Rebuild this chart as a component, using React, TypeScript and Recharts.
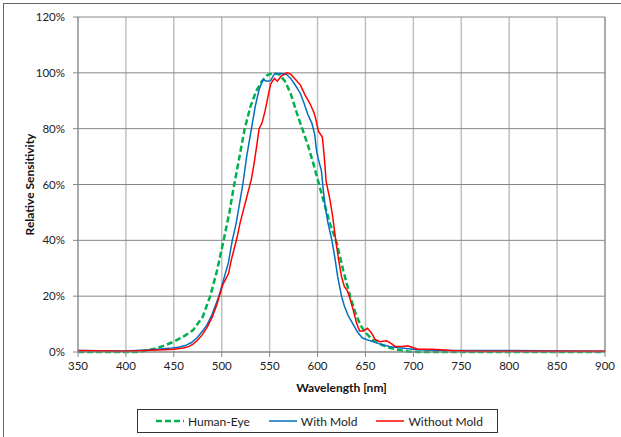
import { LineChart, Line, XAxis, YAxis, CartesianGrid, Legend, ReferenceLine } from 'recharts';

const X_TICKS = [350, 400, 450, 500, 550, 600, 650, 700, 750, 800, 850, 900];
const Y_TICKS = [0, 20, 40, 60, 80, 100, 120];

const eyeNm = [350, 400, 415, 420, 430, 440, 450, 460, 470, 480, 488, 495, 502, 508, 512, 518, 524, 530, 536, 542, 548, 554, 560, 566, 572, 578, 585, 590, 596, 600, 606, 613, 620, 627, 634, 640, 645, 650, 657, 665, 675, 685, 695, 705, 900];
const eyeVal = [0, 0, 0, 0.4, 1.2, 2.3, 3.7, 5.5, 7.8, 12.5, 20, 29, 40, 50, 58, 69, 80, 88, 93.5, 97, 99.3, 100, 99.4, 97, 92.5, 86, 79, 74, 67, 62, 54.5, 46, 39, 29, 20, 13.5, 9.5, 7, 4.5, 2.8, 1.5, 0.7, 0.2, 0, 0];

const moldNm = [350, 400, 415, 430, 445, 455, 462, 468, 474, 480, 485, 490, 497, 502, 507, 511, 515, 518, 522, 526, 531, 535, 539, 543, 547, 551, 555, 560, 567, 572, 576, 582, 586, 590, 594, 597, 599, 601, 604, 606, 608, 611, 615, 618, 621, 625, 628, 632, 637, 642, 647, 655, 664, 675, 685, 695, 705, 730, 800, 900];
const moldVal = [0.5, 0.4, 0.6, 0.9, 1.3, 1.7, 2.3, 3.3, 5, 7.5, 10, 13.5, 20, 26, 32, 40, 46, 52, 60, 70, 80, 88, 94, 97.5, 97, 97.2, 99.6, 99.8, 99.6, 98, 96, 92.7, 89, 85, 82, 78, 72, 68.8, 65, 58, 52, 46, 40, 34, 27, 20, 16.5, 13, 10, 7, 5, 4, 3, 2, 1.5, 1.2, 0.8, 0.5, 0.5, 0.3];

const noMoldNm = [350, 400, 420, 440, 450, 460, 466, 470, 475, 480, 485, 490, 495, 498, 501, 504, 507, 510, 513, 516, 519, 522, 525, 528, 531, 534, 537, 539, 542, 545, 548, 551, 555, 558, 562, 568, 572, 576, 582, 587, 592, 596, 598, 601, 605, 607, 609, 613, 616, 619, 622, 625, 628, 631, 634, 638, 641, 644, 648, 652, 656, 660, 665, 672, 677, 681, 688, 694, 700, 705, 720, 740, 760, 900];
const noMoldVal = [0.5, 0.3, 0.5, 0.8, 1, 1.4, 2, 2.8, 4.3, 6.3, 9, 12.5, 17, 20.5, 24, 26, 28, 33, 37, 41, 46, 50, 54, 58, 62, 68, 75, 80, 82, 86, 91, 96, 98, 97, 98.8, 100, 99.5, 98, 95.7, 92, 89, 86, 83.7, 79, 77, 70, 61, 54.5, 48, 40, 33, 27, 23.4, 22, 19, 14, 10, 7.5, 7.5, 8.5, 7, 4.5, 3.7, 4, 3, 2, 2, 2.2, 1.5, 1, 1, 0.5, 0.3, 0.3];

const toPoints = (nm: number[], val: number[]) => nm.map((x, i) => ({ nm: x, v: val[i] }));

const SERIES = [
  { name: 'Human-Eye', color: '#00b050', width: 2.5, dash: '6 3', data: toPoints(eyeNm, eyeVal) },
  { name: 'With Mold', color: '#0070c0', width: 1.5, dash: undefined, data: toPoints(moldNm, moldVal) },
  { name: 'Without Mold', color: '#ff0000', width: 1.5, dash: undefined, data: toPoints(noMoldNm, noMoldVal) },
];

const FONT = 'Lato, "DejaVu Sans", sans-serif';

function renderLegend() {
  return (
    <div
      style={{
        boxSizing: 'border-box',
        border: '1px solid #333',
        width: 361,
        height: 24,
        display: 'flex',
        alignItems: 'center',
        paddingLeft: 18,
        fontFamily: FONT,
        fontSize: 12,
        color: '#222',
        background: '#fff',
        whiteSpace: 'nowrap',
      }}
    >
      {SERIES.map((s) => (
        <div key={s.name} style={{ display: 'flex', alignItems: 'center', marginRight: 19, flexShrink: 0 }}>
          <svg width={28} height={8} style={{ marginRight: 4, flexShrink: 0 }}>
            <line x1={0} y1={4} x2={28} y2={4} stroke={s.color} strokeWidth={s.width} strokeDasharray={s.dash} />
          </svg>
          <span>{s.name}</span>
        </div>
      ))}
    </div>
  );
}

export default function App() {
  return (
    <div style={{ position: 'absolute', left: 0, top: 0, width: 621, height: 437, overflow: 'hidden', background: '#fff' }}>
      <div
        style={{
          position: 'absolute',
          left: 3,
          top: 3,
          width: 660,
          height: 480,
          border: '1px solid #666',
        }}
      />
      <div style={{ position: 'absolute', left: 0, top: 0 }}>
        <LineChart width={621} height={437} margin={{ top: 17, right: 16, bottom: 0, left: 18 }}>
          <CartesianGrid horizontal={false} stroke="#c0c0c0" strokeWidth={1.5} />
          <CartesianGrid vertical={false} stroke="#868686" strokeWidth={1} />
          <ReferenceLine x={900} stroke="#868686" />
          <XAxis
            type="number"
            dataKey="nm"
            domain={[350, 900]}
            ticks={X_TICKS}
            allowDataOverflow
            tickSize={5}
            tickMargin={5}
            stroke="#868686"
            tick={{ fill: '#222', fontSize: 11.5, fontFamily: FONT }}
            label={{
              value: 'Wavelength [nm]',
              position: 'insideBottom',
              offset: 45,
              style: { fill: '#111', fontSize: 12, fontWeight: 700, fontFamily: FONT },
            }}
            height={85}
          />
          <YAxis
            type="number"
            domain={[0, 120]}
            ticks={Y_TICKS}
            width={60}
            tickSize={5}
            tickMargin={8}
            stroke="#868686"
            tickFormatter={(v: number) => `${v}%`}
            tick={{ fill: '#222', fontSize: 11.5, fontFamily: FONT }}
            label={{
              content: (props: any) => {
                const vb = props.viewBox || { x: 18, y: 17, height: 335 };
                const cx = vb.x + 11;
                const cy = vb.y + vb.height / 2;
                return (
                  <text
                    x={cx}
                    y={cy}
                    transform={`rotate(-90 ${cx} ${cy})`}
                    textAnchor="middle"
                    dominantBaseline="central"
                    style={{ fill: '#111', fontSize: 12, fontWeight: 700, fontFamily: FONT }}
                  >
                    Relative Sensitivity
                  </text>
                );
              },
            }}
          />
          <Legend
            layout="horizontal"
            verticalAlign="middle"
            align="center"
            content={renderLegend}
            wrapperStyle={{ left: 137, top: 409, width: 361, height: 24 }}
          />
          {SERIES.map((s) => (
            <Line
              key={s.name}
              data={s.data}
              dataKey="v"
              name={s.name}
              type="linear"
              stroke={s.color}
              strokeWidth={s.width}
              strokeDasharray={s.dash}
              dot={false}
              activeDot={false}
              isAnimationActive={false}
            />
          ))}
        </LineChart>
      </div>
    </div>
  );
}
